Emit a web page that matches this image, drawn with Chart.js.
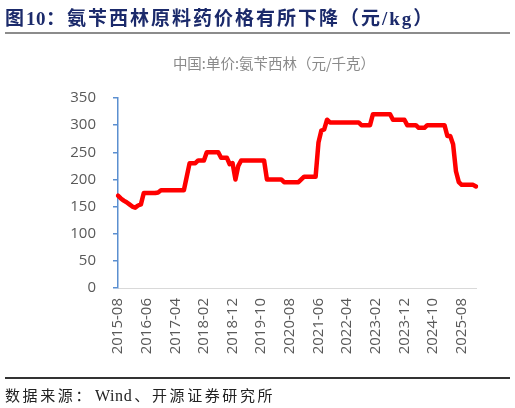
<!DOCTYPE html>
<html>
<head>
<meta charset="utf-8">
<script src="https://cdn.jsdelivr.net/npm/chart.js@4.4.0/dist/chart.umd.min.js"></script>
<style>
  html, body { margin: 0; padding: 0; background: #fff; }
  body { width: 515px; height: 408px; position: relative; overflow: hidden; }
  #wrap { position: absolute; left: 0; top: 0; width: 515px; height: 408px; }
  .t { position: absolute; white-space: nowrap; }
  #title { left: 5px; top: 3px; font: bold 19px "Liberation Serif", "Noto Sans CJK SC"; color: #1B2A6B; letter-spacing: 2px; }
  #title .n { letter-spacing: 0.5px; }
  #rule1 { position: absolute; left: 5px; top: 32px; width: 505px; height: 2px; background: #8c8c8c; }
  #sub { left: 274px; top: 52px; transform: translateX(-50%); font: 14.5px "Noto Sans CJK SC"; color: #8a8a8a; }
  #rule2 { position: absolute; left: 5px; top: 377px; width: 505px; height: 1.5px; background: #333; }
  #src { left: 5px; top: 384px; font: 15px "Liberation Serif", "Noto Sans CJK SC"; color: #222; letter-spacing: 2.6px; }
  #src .w { letter-spacing: 0.6px; margin-left: 2px; margin-right: 2px; font-size: 16px; }
</style>
</head>
<body>
<div id="wrap"><canvas id="c" width="515" height="408"></canvas></div>
<div class="t" id="title">图<span class="n">10</span>：氨苄西林原料药价格有所下降（元/kg）</div>
<div id="rule1"></div>
<div class="t" id="sub">中国:单价:氨苄西林（元/千克）</div>
<div id="rule2"></div>
<div class="t" id="src">数据来源：<span class="w">Wind</span>、开源证券研究所</div>
<script>
const months = [
  "2015-08","2015-09","2015-10","2015-11","2015-12",
  "2016-01","2016-02","2016-03","2016-04","2016-05","2016-06","2016-07","2016-08","2016-09","2016-10","2016-11","2016-12",
  "2017-01","2017-02","2017-03","2017-04","2017-05","2017-06","2017-07","2017-08","2017-09","2017-10","2017-11","2017-12",
  "2018-01","2018-02","2018-03","2018-04","2018-05","2018-06","2018-07","2018-08","2018-09","2018-10","2018-11","2018-12",
  "2019-01","2019-02","2019-03","2019-04","2019-05","2019-06","2019-07","2019-08","2019-09","2019-10","2019-11","2019-12",
  "2020-01","2020-02","2020-03","2020-04","2020-05","2020-06","2020-07","2020-08","2020-09","2020-10","2020-11","2020-12",
  "2021-01","2021-02","2021-03","2021-04","2021-05","2021-06","2021-07","2021-08","2021-09","2021-10","2021-11","2021-12",
  "2022-01","2022-02","2022-03","2022-04","2022-05","2022-06","2022-07","2022-08","2022-09","2022-10","2022-11","2022-12",
  "2023-01","2023-02","2023-03","2023-04","2023-05","2023-06","2023-07","2023-08","2023-09","2023-10","2023-11","2023-12",
  "2024-01","2024-02","2024-03","2024-04","2024-05","2024-06","2024-07","2024-08","2024-09","2024-10","2024-11","2024-12",
  "2025-01","2025-02","2025-03","2025-04","2025-05","2025-06","2025-07","2025-08","2025-09","2025-10","2025-11","2025-12",
  "2026-01"
];
const price = [
  170,165,161,158,154,
  150,148,152,154,175,175,175,175,175,176,180,180,
  180,180,180,180,180,180,180,205,230,230,230,235,
  235,235,250,250,250,250,250,240,240,240,228,230,
  200,225,235,235,235,235,235,235,235,235,235,200,
  200,200,200,200,200,195,195,195,195,195,195,200,
  205,205,205,205,205,268,290,292,310,305,305,305,
  305,305,305,305,305,305,305,305,300,300,300,300,
  320,320,320,320,320,320,320,310,310,310,310,310,
  300,300,300,300,295,295,295,300,300,300,300,300,
  300,300,280,280,265,215,195,190,190,190,190,190,
  187
];
const yTicks = [0, 50, 100, 150, 200, 250, 300, 350];
const labelEvery = 10;

const tickFont = { family: "Open Sans", size: 15 };
new Chart(document.getElementById('c'), {
  type: 'line',
  data: {
    labels: months,
    datasets: [{
      data: price,
      borderColor: '#FF0000',
      borderWidth: 4.5,
      pointRadius: 0,
      tension: 0,
      borderJoinStyle: 'round',
      borderCapStyle: 'round',
      fill: false
    }]
  },
  options: {
    responsive: false,
    animation: false,
    devicePixelRatio: 1,
    layout: { padding: { top: 98, right: 39, left: 0, bottom: 0 } },
    plugins: { legend: { display: false }, tooltip: { enabled: false }, title: { display: false } },
    scales: {
      x: {
        type: 'category',
        offset: false,
        grid: { drawOnChartArea: false, drawTicks: false, color: 'rgba(0,0,0,0)' },
        border: { display: true, color: '#d9d9d9', width: 1 },
        ticks: {
          autoSkip: false,
          minRotation: 90,
          maxRotation: 90,
          padding: 10,
          color: '#595959',
          font: tickFont,
          callback: function (v, i) { return i % labelEvery === 0 ? months[i] : null; }
        },
        afterFit: function (s) { s.height = 120; }
      },
      y: {
        min: 0,
        max: 350,
        afterBuildTicks: function (s) { s.ticks = yTicks.map(v => ({ value: v })); },
        grid: { drawOnChartArea: false, drawTicks: true, tickLength: 5, color: '#5B8FD0', lineWidth: 1.5 },
        border: { display: true, color: '#5B8FD0', width: 1.5 },
        ticks: { padding: 17, color: '#595959', font: tickFont },
        afterFit: function (s) { s.width = 118; }
      }
    }
  }
});
</script>
</body>
</html>
